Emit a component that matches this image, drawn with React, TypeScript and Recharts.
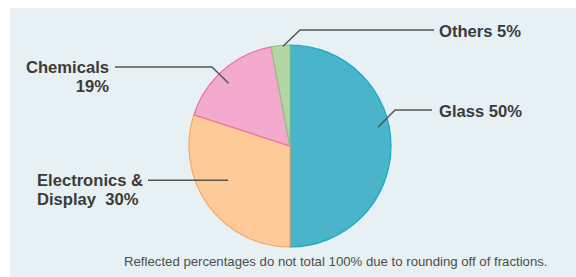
import { PieChart, Pie, Cell } from 'recharts'

// Slice shares as drawn (the picture is drawn 50/30/17/3), label text as printed
const categories = ['Glass', 'Electronics & Display', 'Chemicals', 'Others']
const sliceShares = [50, 30, 17, 3]
const printedPct = ['50%', '30%', '19%', '5%']

const FILLS = ['#4ab4ca', '#fdca98', '#f4aacd', '#b3d6a5']
const STROKES = ['#1aa7c6', '#f9a75c', '#ec71a9', '#8ec47f']

const TEXT = '#3b3b3b'
const LEADER = '#555555'
const RADIAN = Math.PI / 180

// Leader/label layout, relative to the pie centre
interface LabelLayout {
  rFrac: number
  angleShift: number
  elbow?: [number, number]
  endDx: number
  textDx: number
  anchor: 'start' | 'end'
  lines: { dy: number; text: string }[]
}

const LAYOUT: LabelLayout[] = [
  { rFrac: 0.89, angleShift: 12, elbow: [105, -36], endDx: 142, textDx: 149, anchor: 'start', lines: [{ dy: -29, text: `Glass ${printedPct[0]}` }] },
  {
    rFrac: 0.7,
    angleShift: -7,
    endDx: -142,
    textDx: -253,
    anchor: 'start',
    lines: [
      { dy: 40, text: 'Electronics &' },
      { dy: 59, text: `Display  ${printedPct[1]}` }
    ]
  },
  {
    rFrac: 0.87,
    angleShift: 3,
    elbow: [-78, -79],
    endDx: -175,
    textDx: -181,
    anchor: 'end',
    lines: [
      { dy: -73, text: 'Chemicals' },
      { dy: -54, text: printedPct[2] }
    ]
  },
  { rFrac: 0.99, angleShift: -1.4, elbow: [10, -116], endDx: 144, textDx: 149, anchor: 'start', lines: [{ dy: -109.5, text: `Others ${printedPct[3]}` }] }
]

const data = categories.map((name, i) => ({ name, value: sliceShares[i] }))

function renderLabel(props: any) {
  const { cx, cy, midAngle, outerRadius, index } = props
  const l = LAYOUT[index]
  const a = (midAngle + l.angleShift) * RADIAN
  const r = outerRadius * l.rFrac
  const ax = cx + r * Math.cos(-a)
  const ay = cy + r * Math.sin(-a)
  const ex = l.elbow ? cx + l.elbow[0] : ax
  const ey = l.elbow ? cy + l.elbow[1] : ay
  const pts = `${ax},${ay} ${ex},${ey} ${cx + l.endDx},${ey}`
  return (
    <g key={`lbl-${index}`}>
      <polyline points={pts} fill="none" stroke={LEADER} strokeWidth={1.5} />
      {l.lines.map((ln, j) => (
        <text
          key={j}
          x={cx + l.textDx}
          y={cy + ln.dy}
          textAnchor={l.anchor}
          fill={TEXT}
          fontSize={16.6}
          fontWeight={600}
          fontFamily="'Liberation Sans', Arial, sans-serif"
          style={{ whiteSpace: 'pre' }}
        >
          {ln.text}
        </text>
      ))}
    </g>
  )
}

export default function App() {
  return (
    <div style={{ position: 'absolute', left: 0, top: 0, width: 576, height: 277, background: '#ffffff' }}>
      <div style={{ position: 'absolute', left: 10, top: 8, width: 566, height: 269, background: '#e7f0f3' }} />
      <div style={{ position: 'absolute', left: 0, top: 0 }}>
        <PieChart width={576} height={277} margin={{ top: 0, right: 0, bottom: 0, left: 0 }}>
          <Pie
            data={data}
            dataKey="value"
            nameKey="name"
            cx={290}
            cy={146}
            outerRadius={101}
            startAngle={90}
            endAngle={-270}
            label={renderLabel}
            labelLine={false}
            isAnimationActive={false}
          >
            {data.map((_, i) => (
              <Cell key={`cell-${i}`} fill={FILLS[i]} stroke={STROKES[i]} strokeWidth={1.2} />
            ))}
          </Pie>
        </PieChart>
      </div>
      <div
        style={{
          position: 'absolute',
          left: 124,
          top: 254,
          fontFamily: "'Liberation Sans', Arial, sans-serif",
          fontSize: 13.2,
          color: '#4d4d4d',
          whiteSpace: 'nowrap',
          lineHeight: '16px'
        }}
      >
        Reflected percentages do not total 100% due to rounding off of fractions.
      </div>
    </div>
  )
}
